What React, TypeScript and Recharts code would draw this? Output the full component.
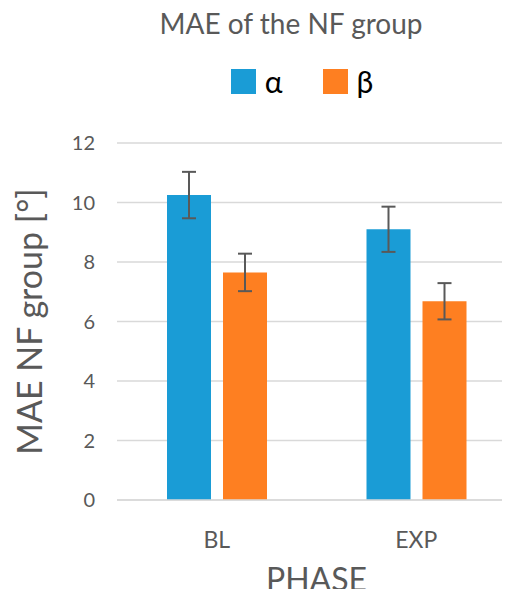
import {
  BarChart,
  Bar,
  XAxis,
  YAxis,
  CartesianGrid,
  Legend,
  ErrorBar,
} from "recharts"

// Values
const phases = ["BL", "EXP"]
const alphaValues = [10.25, 9.1]
const alphaErrors = [0.78, 0.76]
const betaValues = [7.65, 6.68]
const betaErrors = [0.63, 0.61]
const yTicks = [0, 2, 4, 6, 8, 10, 12]

const data = phases.map((phase, i) => ({
  phase,
  alpha: alphaValues[i],
  alphaErr: alphaErrors[i],
  beta: betaValues[i],
  betaErr: betaErrors[i],
}))

const FONT = "Lato, 'Open Sans', sans-serif"
const GREY = "#595959"

function LegendBox({ payload }: any) {
  return (
    <div style={{ display: "flex", justifyContent: "center", gap: 40, fontFamily: FONT }}>
      {(payload || []).map((p: any) => (
        <div key={p.value} style={{ display: "flex", alignItems: "center", gap: 9 }}>
          <span style={{ width: 25, height: 25, background: p.color, display: "inline-block" }} />
          <span style={{ fontSize: 30, color: "#000", lineHeight: "30px" }}>{p.value}</span>
        </div>
      ))}
    </div>
  )
}

export default function App() {
  return (
    <div style={{ position: "relative", width: 510, height: 597, margin: -8, background: "#fff" }}>
      <div
        style={{
          position: "absolute",
          top: 6,
          left: 141,
          width: 300,
          textAlign: "center",
          fontFamily: FONT,
          fontSize: 28,
          color: GREY,
          whiteSpace: "nowrap",
        }}
      >
        MAE of the NF group
      </div>
      {/* negative right margin: the plot runs a little past the edge, as in the cropped original */}
      <BarChart
        width={510}
        height={597}
        data={data}
        margin={{ top: 143, right: -6, left: 0, bottom: 0 }}
        barGap={12}
        barCategoryGap={50}
      >
        <CartesianGrid vertical={false} stroke="#d9d9d9" strokeWidth={1.5} />
        <XAxis
          dataKey="phase"
          height={97}
          axisLine={{ stroke: "#d9d9d9", strokeWidth: 1.5 }}
          tickLine={false}
          tickMargin={26}
          tick={{ fontSize: 23, fill: GREY, fontFamily: FONT }}
          label={{
            value: "PHASE",
            position: "insideBottom",
            offset: 6,
            style: { fontSize: 32, fill: GREY, fontFamily: FONT },
          }}
        />
        <YAxis
          width={117}
          domain={[0, 12]}
          ticks={yTicks}
          axisLine={false}
          tickLine={false}
          tickSize={0}
          tickMargin={22}
          tick={{ fontSize: 20, fill: GREY, fontFamily: FONT }}
          label={{
            value: "MAE NF group [°]",
            angle: -90,
            position: "insideLeft",
            offset: 30,
            style: { fontSize: 34, fill: GREY, fontFamily: FONT, textAnchor: "middle" },
          }}
        />
        <Legend
          verticalAlign="middle"
          layout="horizontal"
          content={<LegendBox />}
          wrapperStyle={{ top: 66, left: 102, width: 400 }}
        />
        <Bar dataKey="alpha" name="α" fill="#1a9cd6" isAnimationActive={false}>
          <ErrorBar dataKey="alphaErr" width={7} stroke={GREY} strokeWidth={2} />
        </Bar>
        <Bar dataKey="beta" name="β" fill="#fe7f21" isAnimationActive={false}>
          <ErrorBar dataKey="betaErr" width={7} stroke={GREY} strokeWidth={2} />
        </Bar>
      </BarChart>
    </div>
  )
}
